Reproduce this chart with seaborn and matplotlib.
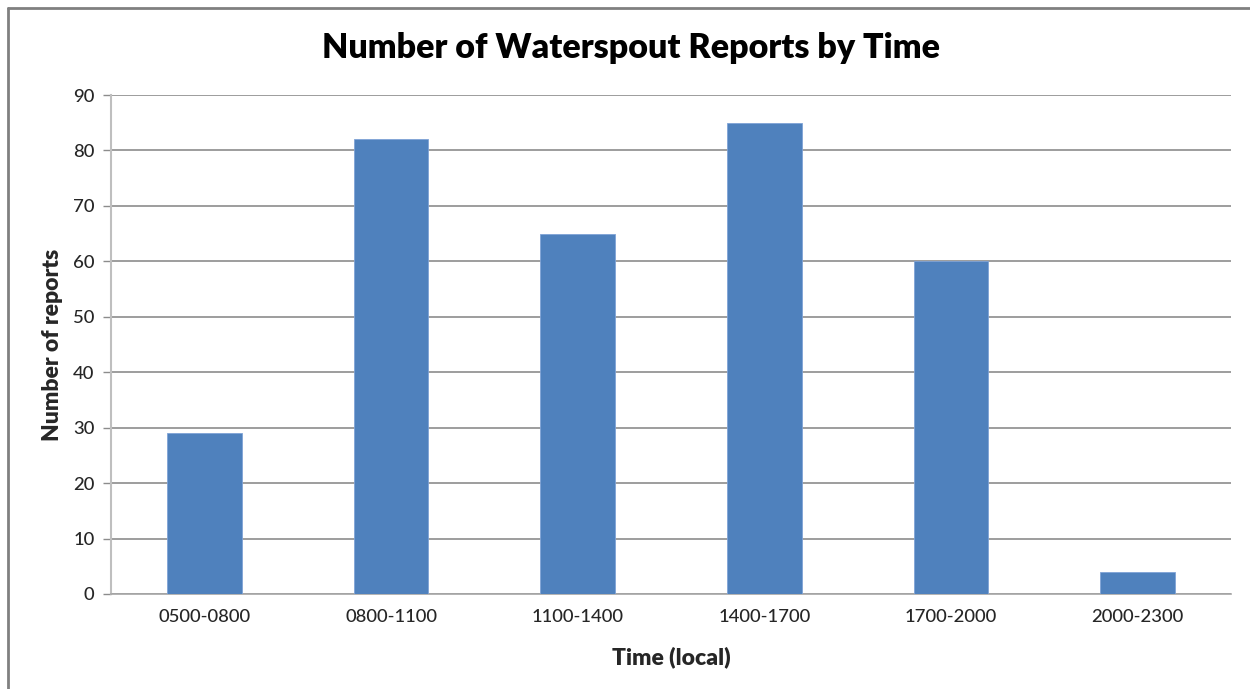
import matplotlib
matplotlib.use("Agg")
import matplotlib.pyplot as plt
from matplotlib.lines import Line2D
from matplotlib.ticker import FixedLocator
import seaborn as sns
import pandas as pd

# Waterspout reports per local time window
time_windows = ["0500-0800", "0800-1100", "1100-1400", "1400-1700", "1700-2000", "2000-2300"]
report_counts = [29, 82, 65, 85, 60, 4]
y_ticks = [0, 10, 20, 30, 40, 50, 60, 70, 80, 90]

df = pd.DataFrame({"window": time_windows, "reports": report_counts})

sns.set_style("white")
plt.rcParams["font.family"] = ["Lato", "DejaVu Sans"]

W, H = 1250, 689
fig = plt.figure(figsize=(W / 100, H / 100), dpi=100)
ax = fig.add_axes([111 / W, 1 - 594 / H, (1231 - 111) / W, (594 - 95) / H])

sns.barplot(data=df, x="window", y="reports", color="#4F81BD", width=0.4,
            saturation=1, ax=ax, zorder=3, edgecolor="#7FA3D6", linewidth=0.6)

ax.set_xlim(-0.5, len(time_windows) - 0.5)
ax.set_ylim(0, 90)
ax.set_yticks(y_ticks)
ax.yaxis.grid(True, color="#8C8C8C", linewidth=1.2, zorder=0)
ax.set_axisbelow(True)

for side in ("top", "right"):
    ax.spines[side].set_visible(False)
ax.spines["left"].set_color("#BFBFBF")
ax.spines["left"].set_linewidth(1.5)
ax.spines["bottom"].set_color("#A6A6A6")
ax.spines["bottom"].set_linewidth(1.2)

# category labels without ticks; tick marks sit on category boundaries
ax.tick_params(axis="x", which="major", length=0, pad=11, labelsize=13.3, labelcolor="#262626")
ax.xaxis.set_minor_locator(FixedLocator([i - 0.5 for i in range(len(time_windows) + 1)]))
ax.tick_params(axis="x", which="minor", length=6, width=1, color="#A6A6A6", direction="out")
ax.tick_params(axis="y", length=6, width=1, color="#8C8C8C", pad=6, labelsize=13.3,
               labelcolor="#262626", left=True)
for lbl in ax.get_xticklabels() + ax.get_yticklabels():
    lbl.set_fontweight("medium")

ax.set_xlabel("Time (local)", fontsize=16.5, fontweight="heavy", labelpad=15)
ax.set_ylabel("Number of reports", fontsize=16.5, fontweight="heavy", labelpad=7)

fig.text(631 / W, 1 - 48 / H, "Number of Waterspout Reports by Time", ha="center", va="center",
         fontsize=24.5, fontweight="heavy", color="black")

# chart frame
fig.add_artist(Line2D([8 / W, 1.0], [1 - 7.5 / H, 1 - 7.5 / H], transform=fig.transFigure,
                      color="#808080", linewidth=2))
fig.add_artist(Line2D([8 / W, 8 / W], [0, 1 - 7.5 / H], transform=fig.transFigure,
                      color="#808080", linewidth=2))

fig.savefig("out.png", dpi=100, facecolor="white")
